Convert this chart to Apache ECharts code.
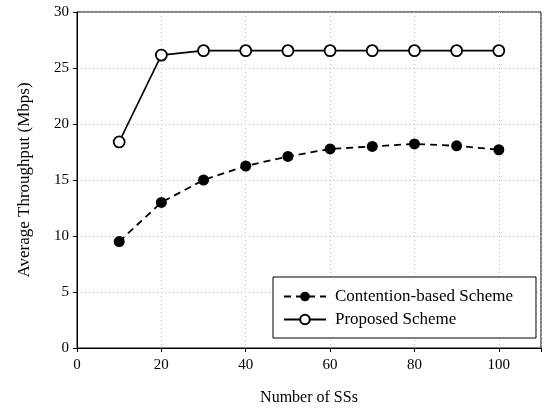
<!DOCTYPE html>
<html>
<head>
<meta charset="utf-8">
<script src="https://cdn.jsdelivr.net/npm/echarts@6/dist/echarts.min.js"></script>
<style>
  html, body { margin: 0; padding: 0; background: #fff; }
  #chart { width: 545px; height: 414px; }
</style>
</head>
<body>
<div id="chart"></div>
<script>
// number of SSs
const ssCount = [10, 20, 30, 40, 50, 60, 70, 80, 90, 100]
// throughput (Mbps)
const contention = [9.5, 13.0, 15.0, 16.25, 17.1, 17.77, 18.0, 18.22, 18.05, 17.7]
const proposed = [18.4, 26.15, 26.55, 26.55, 26.55, 26.55, 26.55, 26.55, 26.55, 26.55]

const font = 'Liberation Serif'

let myChart = echarts.init(document.getElementById('chart'))

let option = {
  animation: false,
  grid: {
    left: 77, right: 4, top: 12, bottom: 66,
    show: true, borderColor: '#000', borderWidth: 1
  },
  legend: {
    left: 273, top: 277,
    orient: 'vertical',
    padding: [11, 23, 10, 10],
    itemGap: 6,
    itemWidth: 42, itemHeight: 12,
    borderColor: '#000', borderWidth: 1,
    backgroundColor: '#fff',
    textStyle: { fontFamily: font, fontSize: 17, color: '#000', padding: [0, 0, 0, 4] },
    data: ['Contention-based Scheme', 'Proposed Scheme']
  },
  xAxis: {
    type: 'value',
    min: 0, max: 110, interval: 20,
    name: 'Number of SSs',
    nameLocation: 'middle',
    nameGap: 42,
    nameTextStyle: { fontFamily: font, fontSize: 16, color: '#000' },
    axisLine: { lineStyle: { color: '#000' } },
    axisTick: { length: 4, lineStyle: { color: '#000' } },
    axisLabel: {
      fontFamily: font, fontSize: 15, color: '#000', margin: 10,
      formatter: v => (v > 100 ? '' : v)
    },
    splitLine: { lineStyle: { color: '#bbb', type: [1, 3] } }
  },
  yAxis: {
    type: 'value',
    min: 0, max: 30, interval: 5,
    name: 'Average Throughput (Mbps)',
    nameLocation: 'middle',
    nameGap: 44,
    nameTextStyle: { fontFamily: font, fontSize: 17, color: '#000' },
    axisLine: { show: true, lineStyle: { color: '#000' } },
    axisTick: { show: true, length: 4, lineStyle: { color: '#000' } },
    axisLabel: { fontFamily: font, fontSize: 15, color: '#000', margin: 8 },
    splitLine: { lineStyle: { color: '#bbb', type: [1, 3] } }
  },
  series: [
    {
      name: 'Contention-based Scheme',
      type: 'line',
      data: ssCount.map((x, i) => [x, contention[i]]),
      symbol: 'circle',
      symbolSize: 11,
      itemStyle: { color: '#000' },
      lineStyle: { color: '#000', width: 1.8, type: [7, 5] }
    },
    {
      name: 'Proposed Scheme',
      type: 'line',
      data: ssCount.map((x, i) => [x, proposed[i]]),
      symbol: 'circle',
      symbolSize: 11,
      itemStyle: { color: '#fff', borderColor: '#000', borderWidth: 1.8 },
      lineStyle: { color: '#000', width: 1.6 }
    }
  ]
}

myChart.setOption(option)
</script>
</body>
</html>
